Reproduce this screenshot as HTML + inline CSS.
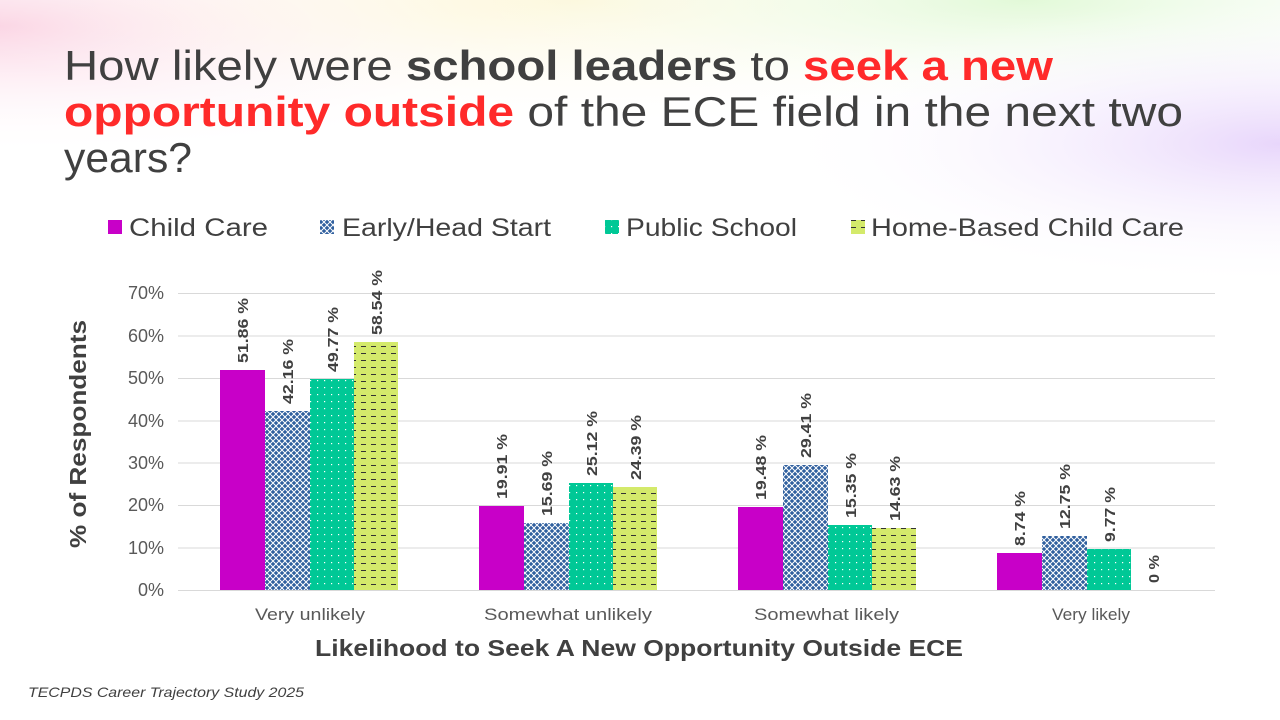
<!DOCTYPE html>
<html><head><meta charset="utf-8"><style>
html,body{margin:0;padding:0;width:1280px;height:720px;overflow:hidden;background:#fff}
</style></head><body>
<svg width="1280" height="720" xmlns="http://www.w3.org/2000/svg" font-family="'Liberation Sans', sans-serif">
<defs>
<radialGradient id="g1" cx="0" cy="0.1" r="0.5"><stop offset="0" stop-color="#fbd3e3"/><stop offset="1" stop-color="#fff" stop-opacity="0"/></radialGradient>
<radialGradient id="g2" cx="0.45" cy="0" r="0.5"><stop offset="0" stop-color="#fdf7d8"/><stop offset="1" stop-color="#fff" stop-opacity="0"/></radialGradient>
<radialGradient id="g3" cx="0.8" cy="0" r="0.45"><stop offset="0" stop-color="#e2f9d8"/><stop offset="1" stop-color="#fff" stop-opacity="0"/></radialGradient>
<radialGradient id="g4" cx="1" cy="0.4" r="0.4"><stop offset="0" stop-color="#e8d6fb"/><stop offset="1" stop-color="#fff" stop-opacity="0"/></radialGradient>
<pattern id="cross" width="6" height="6" patternUnits="userSpaceOnUse">
<rect width="6" height="6" fill="#2f5f9e"/><path d="M0,0L6,6M6,0L0,6" stroke="#fff" stroke-width="1"/></pattern>
<pattern id="dots" width="7" height="7" patternUnits="userSpaceOnUse">
<rect width="7" height="7" fill="#00c896"/><rect x="2" y="2" width="1.2" height="1.2" fill="#fff"/></pattern>
<pattern id="dash" width="10" height="7" patternUnits="userSpaceOnUse">
<rect width="10" height="7" fill="#d4ea6b"/><rect x="1" y="3" width="5" height="1" fill="#333"/></pattern>
</defs>
<rect width="1280" height="260" fill="url(#g1)"/>
<rect width="1280" height="260" fill="url(#g2)"/>
<rect width="1280" height="260" fill="url(#g3)"/>
<rect width="1280" height="360" fill="url(#g4)"/>
<g font-size="42" fill="#404040">
<text x="64" y="80" textLength="989" lengthAdjust="spacingAndGlyphs">How likely were <tspan font-weight="bold">school leaders</tspan> to <tspan font-weight="bold" fill="#ff2a2a">seek a new</tspan></text>
<text x="64" y="126" textLength="1119" lengthAdjust="spacingAndGlyphs"><tspan font-weight="bold" fill="#ff2a2a">opportunity outside</tspan> of the ECE field in the next two</text>
<text x="64" y="172" textLength="128" lengthAdjust="spacingAndGlyphs">years?</text>
</g>
<g font-size="25" fill="#404040">
<rect x="108" y="220" width="14" height="14" fill="#c800c8"/><text x="129" y="236" textLength="139" lengthAdjust="spacingAndGlyphs">Child Care</text>
<rect x="320" y="220" width="14" height="14" fill="url(#cross)"/><text x="342" y="236" textLength="209" lengthAdjust="spacingAndGlyphs">Early/Head Start</text>
<rect x="605" y="220" width="14" height="14" fill="url(#dots)"/><text x="626" y="236" textLength="171" lengthAdjust="spacingAndGlyphs">Public School</text>
<rect x="851" y="220" width="14" height="14" fill="url(#dash)"/><text x="871" y="236" textLength="313" lengthAdjust="spacingAndGlyphs">Home-Based Child Care</text>
</g>
<g stroke="#d9d9d9" stroke-width="1">
<line x1="178" y1="293.5" x2="1215" y2="293.5"/><line x1="178" y1="336" x2="1215" y2="336"/>
<line x1="178" y1="378.5" x2="1215" y2="378.5"/><line x1="178" y1="421" x2="1215" y2="421"/>
<line x1="178" y1="463" x2="1215" y2="463"/><line x1="178" y1="505.5" x2="1215" y2="505.5"/>
<line x1="178" y1="548" x2="1215" y2="548"/><line x1="178" y1="590.5" x2="1215" y2="590.5"/>
</g>
<g font-size="18" fill="#595959" text-anchor="end">
<text x="164" y="596">0%</text><text x="164" y="554">10%</text><text x="164" y="511">20%</text>
<text x="164" y="469">30%</text><text x="164" y="427">40%</text><text x="164" y="384">50%</text>
<text x="164" y="342">60%</text><text x="164" y="299">70%</text>
</g>
<g font-size="17" fill="#595959">
<text x="255" y="620" textLength="110" lengthAdjust="spacingAndGlyphs">Very unlikely</text>
<text x="484" y="620" textLength="168" lengthAdjust="spacingAndGlyphs">Somewhat unlikely</text>
<text x="754" y="620" textLength="145" lengthAdjust="spacingAndGlyphs">Somewhat likely</text>
<text x="1052" y="620" textLength="78" lengthAdjust="spacingAndGlyphs">Very likely</text>
</g>
<text x="315" y="656" font-size="23" font-weight="bold" fill="#404040" textLength="648" lengthAdjust="spacingAndGlyphs">Likelihood to Seek A New Opportunity Outside ECE</text>
<text transform="translate(86,548) rotate(-90)" font-size="23" font-weight="bold" fill="#404040" textLength="228" lengthAdjust="spacingAndGlyphs">% of Respondents</text>
<text x="28" y="697" font-size="14" font-style="italic" fill="#404040" textLength="276" lengthAdjust="spacingAndGlyphs">TECPDS Career Trajectory Study 2025</text>
<g>
<rect x="220" y="370" width="45" height="220" fill="#c800c8"/>
<rect x="265" y="411" width="45" height="179" fill="url(#cross)"/>
<rect x="310" y="379" width="44" height="211" fill="url(#dots)"/>
<rect x="354" y="342" width="44" height="248" fill="url(#dash)"/>
<rect x="479" y="506" width="45" height="84" fill="#c800c8"/>
<rect x="524" y="523" width="45" height="67" fill="url(#cross)"/>
<rect x="569" y="483" width="44" height="107" fill="url(#dots)"/>
<rect x="613" y="487" width="44" height="103" fill="url(#dash)"/>
<rect x="738" y="507" width="45" height="83" fill="#c800c8"/>
<rect x="783" y="465" width="45" height="125" fill="url(#cross)"/>
<rect x="828" y="525" width="44" height="65" fill="url(#dots)"/>
<rect x="872" y="528" width="44" height="62" fill="url(#dash)"/>
<rect x="997" y="553" width="45" height="37" fill="#c800c8"/>
<rect x="1042" y="536" width="45" height="54" fill="url(#cross)"/>
<rect x="1087" y="549" width="44" height="41" fill="url(#dots)"/>
</g>
<g font-size="15" font-weight="bold" fill="#404040">
<text transform="translate(248,363) rotate(-90)" textLength="65" lengthAdjust="spacingAndGlyphs">51.86 %</text>
<text transform="translate(293,404) rotate(-90)" textLength="65" lengthAdjust="spacingAndGlyphs">42.16 %</text>
<text transform="translate(338,372) rotate(-90)" textLength="65" lengthAdjust="spacingAndGlyphs">49.77 %</text>
<text transform="translate(382,335) rotate(-90)" textLength="65" lengthAdjust="spacingAndGlyphs">58.54 %</text>
<text transform="translate(507,499) rotate(-90)" textLength="65" lengthAdjust="spacingAndGlyphs">19.91 %</text>
<text transform="translate(552,516) rotate(-90)" textLength="65" lengthAdjust="spacingAndGlyphs">15.69 %</text>
<text transform="translate(597,476) rotate(-90)" textLength="65" lengthAdjust="spacingAndGlyphs">25.12 %</text>
<text transform="translate(641,480) rotate(-90)" textLength="65" lengthAdjust="spacingAndGlyphs">24.39 %</text>
<text transform="translate(766,500) rotate(-90)" textLength="65" lengthAdjust="spacingAndGlyphs">19.48 %</text>
<text transform="translate(811,458) rotate(-90)" textLength="65" lengthAdjust="spacingAndGlyphs">29.41 %</text>
<text transform="translate(856,518) rotate(-90)" textLength="65" lengthAdjust="spacingAndGlyphs">15.35 %</text>
<text transform="translate(900,521) rotate(-90)" textLength="65" lengthAdjust="spacingAndGlyphs">14.63 %</text>
<text transform="translate(1025,546) rotate(-90)" textLength="55" lengthAdjust="spacingAndGlyphs">8.74 %</text>
<text transform="translate(1070,529) rotate(-90)" textLength="65" lengthAdjust="spacingAndGlyphs">12.75 %</text>
<text transform="translate(1115,542) rotate(-90)" textLength="55" lengthAdjust="spacingAndGlyphs">9.77 %</text>
<text transform="translate(1159,583) rotate(-90)" textLength="28" lengthAdjust="spacingAndGlyphs">0 %</text>
</g>
</svg>
</body></html>
